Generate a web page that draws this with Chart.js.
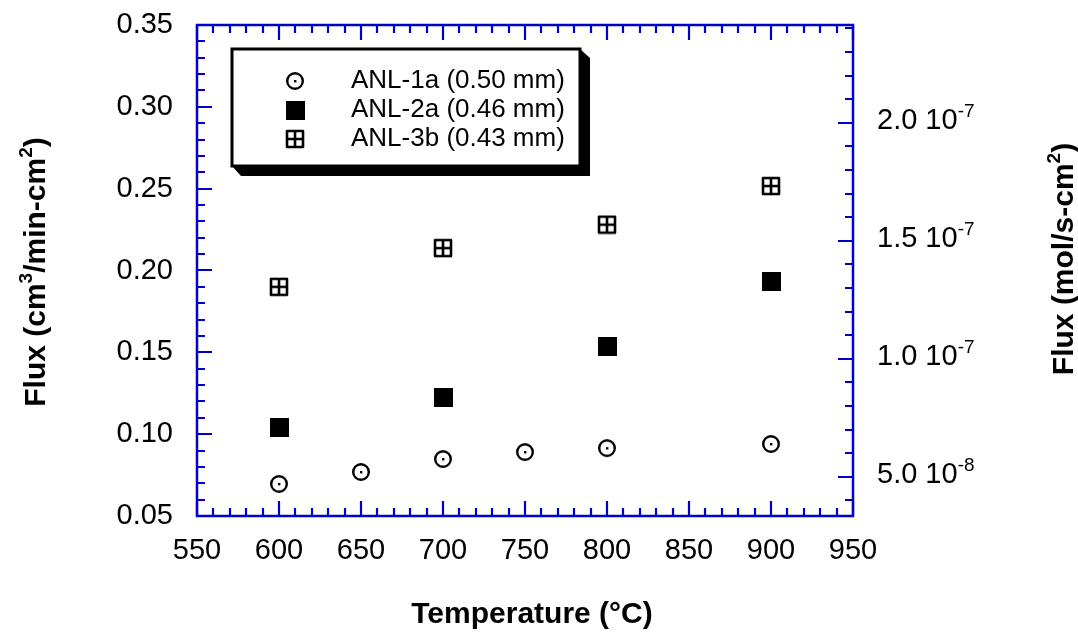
<!DOCTYPE html>
<html>
<head>
<meta charset="utf-8">
<script src="https://cdn.jsdelivr.net/npm/chart.js@4/dist/chart.umd.min.js"></script>
<style>
  html, body { margin: 0; padding: 0; background: #fff; }
  #grafico { display: block; }
</style>
</head>
<body>
<canvas id="grafico" width="1078" height="633"></canvas>
<script>
// dados
const temps1a = [600, 650, 700, 750, 800, 900];
const flux1a = [0.0696, 0.0769, 0.0848, 0.0891, 0.0915, 0.0940];

const temps2a = [600, 700, 800, 900];
const flux2a = [0.1038, 0.1227, 0.1533, 0.1930];

const temps3b = [600, 700, 800, 900];
const flux3b = [0.1900, 0.2137, 0.2280, 0.2516];

const rotulos = ['ANL-1a (0.50 mm)', 'ANL-2a (0.46 mm)', 'ANL-3b (0.43 mm)'];

const xTicks = [550, 600, 650, 700, 750, 800, 850, 900, 950];
const yTicks = [0.05, 0.10, 0.15, 0.20, 0.25, 0.30, 0.35];
const y2Ticks = [5e-8, 1.0e-7, 1.5e-7, 2.0e-7];
const y2Mantissa = ['5.0', '1.0', '1.5', '2.0'];
const y2Expoente = ['-8', '-7', '-7', '-7'];

// eixo da direita (mol/s-cm2) alinhado com o da esquerda
const y2Min = 3.335e-8;
const y2Max = 2.414e-7;

const AZUL = '#0000cc';
const FONTE = "'Liberation Sans', Arial, sans-serif";

// marcadores
function marcadorCirculo() {
    const c = document.createElement('canvas');
    c.width = 22; c.height = 22;
    const g = c.getContext('2d');
    g.strokeStyle = '#000';
    g.lineWidth = 2.4;
    g.beginPath();
    g.arc(11, 11, 7.8, 0, Math.PI * 2);
    g.stroke();
    g.fillStyle = '#000';
    g.fillRect(10, 10, 2.4, 2.4);
    return c;
}

function marcadorQuadrado() {
    const c = document.createElement('canvas');
    c.width = 19; c.height = 19;
    const g = c.getContext('2d');
    g.fillStyle = '#000';
    g.fillRect(0, 0, 19, 19);
    return c;
}

function marcadorQuadradoCruz() {
    const c = document.createElement('canvas');
    c.width = 20; c.height = 20;
    const g = c.getContext('2d');
    g.strokeStyle = '#000';
    g.lineWidth = 2.6;
    g.lineJoin = 'round';
    g.strokeRect(2, 2, 16, 16);
    g.beginPath();
    g.moveTo(10, 2); g.lineTo(10, 18);
    g.moveTo(2, 10); g.lineTo(18, 10);
    g.stroke();
    return c;
}

const imgs = [marcadorCirculo(), marcadorQuadrado(), marcadorQuadradoCruz()];

function pontos(xs, ys) {
    return xs.map((x, i) => ({ x: x, y: ys[i] }));
}

// texto com expoentes: partes [texto, sobrescrito?]
function larguraPartes(ctx, partes, tam, peso) {
    let w = 0;
    partes.forEach(p => {
        ctx.font = peso + ' ' + (p[1] ? Math.round(tam * 0.64) : tam) + 'px ' + FONTE;
        w += ctx.measureText(p[0]).width;
    });
    return w;
}

function desenharPartes(ctx, partes, x, y, tam, peso) {
    ctx.textAlign = 'left';
    ctx.textBaseline = 'alphabetic';
    partes.forEach(p => {
        const t = p[1] ? Math.round(tam * 0.64) : tam;
        ctx.font = peso + ' ' + t + 'px ' + FONTE;
        ctx.fillText(p[0], x, p[1] ? y - tam * 0.42 : y);
        x += ctx.measureText(p[0]).width;
    });
}

const semMargem = s => { s.paddingTop = 0; s.paddingBottom = 0; s.paddingLeft = 0; s.paddingRight = 0; };

const moldura = {
    id: 'moldura',
    afterDraw(chart) {
        const ctx = chart.ctx;
        const a = chart.chartArea;
        const sx = chart.scales.x, sy = chart.scales.y, sy2 = chart.scales.y2;
        ctx.save();

        // caixa do gráfico e ticks para dentro
        ctx.strokeStyle = AZUL;
        ctx.lineWidth = 2.5;
        ctx.strokeRect(a.left, a.top, a.right - a.left, a.bottom - a.top);
        ctx.lineWidth = 2.2;
        ctx.beginPath();
        for (let v = 550; v <= 950; v += 10) {
            const px = Math.round(sx.getPixelForValue(v));
            const len = v % 50 === 0 ? 15 : 8;
            ctx.moveTo(px, a.bottom); ctx.lineTo(px, a.bottom - len);
            ctx.moveTo(px, a.top); ctx.lineTo(px, a.top + len);
        }
        for (let i = 5; i <= 35; i++) {
            const py = Math.round(sy.getPixelForValue(i / 100));
            const len = i % 5 === 0 ? 15 : 8;
            ctx.moveTo(a.left, py); ctx.lineTo(a.left + len, py);
        }
        for (let i = 4; i <= 24; i++) {
            const py = Math.round(sy2.getPixelForValue(i * 1e-8));
            const len = i % 5 === 0 ? 15 : 8;
            ctx.moveTo(a.right, py); ctx.lineTo(a.right - len, py);
        }
        ctx.stroke();

        // rótulos do eixo da direita
        ctx.fillStyle = '#000';
        y2Ticks.forEach((v, i) => {
            const py = sy2.getPixelForValue(v);
            desenharPartes(ctx, [[y2Mantissa[i] + ' 10', false], [y2Expoente[i], true]], a.right + 24, py + 6, 29, 'normal');
        });

        // títulos dos eixos
        const tituloX = [['Temperature (°C)', false]];
        let w = larguraPartes(ctx, tituloX, 30, 'bold');
        desenharPartes(ctx, tituloX, 532 - w / 2, 623, 30, 'bold');

        const tituloY = [['Flux (cm', false], ['3', true], ['/min-cm', false], ['2', true], [')', false]];
        w = larguraPartes(ctx, tituloY, 30, 'bold');
        ctx.save();
        ctx.translate(45, 272);
        ctx.rotate(-Math.PI / 2);
        desenharPartes(ctx, tituloY, -w / 2, 0, 30, 'bold');
        ctx.restore();

        const tituloY2 = [['Flux (mol/s-cm', false], ['2', true], [')', false]];
        w = larguraPartes(ctx, tituloY2, 30, 'bold');
        ctx.save();
        ctx.translate(1073, 259);
        ctx.rotate(-Math.PI / 2);
        desenharPartes(ctx, tituloY2, -w / 2, 0, 30, 'bold');
        ctx.restore();

        // legenda com sombra
        const L = 232, T = 49, R = 580, B = 166;
        ctx.fillStyle = '#000';
        ctx.beginPath();
        ctx.moveTo(R, T);
        ctx.lineTo(R + 10, T + 9);
        ctx.lineTo(R + 10, B + 10);
        ctx.lineTo(L + 9, B + 10);
        ctx.lineTo(L, B);
        ctx.closePath();
        ctx.fill();
        ctx.fillStyle = '#fff';
        ctx.fillRect(L, T, R - L, B - T);
        ctx.strokeStyle = '#000';
        ctx.lineWidth = 3;
        ctx.strokeRect(L, T, R - L, B - T);

        const linhas = [80, 109, 138];
        ctx.fillStyle = '#000';
        ctx.font = '26px ' + FONTE;
        ctx.textAlign = 'left';
        ctx.textBaseline = 'middle';
        rotulos.forEach((r, i) => {
            const im = imgs[i];
            ctx.drawImage(im, 295 - im.width / 2, linhas[i] + 1 - im.height / 2);
            ctx.fillText(r, 351, linhas[i] + 1);
        });

        ctx.restore();
    }
};

new Chart(document.getElementById('grafico'), {
    type: 'scatter',
    data: {
        datasets: [
            { label: rotulos[0], data: pontos(temps1a, flux1a), pointStyle: imgs[0], yAxisID: 'y' },
            { label: rotulos[1], data: pontos(temps2a, flux2a), pointStyle: imgs[1], yAxisID: 'y' },
            { label: rotulos[2], data: pontos(temps3b, flux3b), pointStyle: imgs[2], yAxisID: 'y' }
        ]
    },
    options: {
        responsive: false,
        animation: false,
        devicePixelRatio: 1,
        layout: { padding: { top: 25, left: 0, right: 0, bottom: 0 } },
        plugins: {
            legend: { display: false },
            tooltip: { enabled: false }
        },
        scales: {
            x: {
                type: 'linear',
                position: 'bottom',
                min: 550,
                max: 950,
                grid: { display: false, drawTicks: false },
                border: { display: false },
                afterBuildTicks: s => { s.ticks = xTicks.map(v => ({ value: v })); },
                afterFit: s => { s.height = 117; semMargem(s); },
                ticks: {
                    color: '#000',
                    padding: 18,
                    maxRotation: 0,
                    font: { family: FONTE, size: 29 }
                }
            },
            y: {
                type: 'linear',
                position: 'left',
                min: 0.05,
                max: 0.35,
                grid: { display: false, drawTicks: false },
                border: { display: false },
                afterBuildTicks: s => { s.ticks = yTicks.map(v => ({ value: v })); },
                afterFit: s => { s.width = 197; semMargem(s); },
                ticks: {
                    color: '#000',
                    padding: 24,
                    font: { family: FONTE, size: 29 },
                    callback: v => v.toFixed(2)
                }
            },
            y2: {
                type: 'linear',
                position: 'right',
                min: y2Min,
                max: y2Max,
                grid: { display: false, drawTicks: false },
                border: { display: false },
                afterFit: s => { s.width = 225; semMargem(s); },
                ticks: { display: false }
            }
        }
    },
    plugins: [moldura]
});
</script>
</body>
</html>
